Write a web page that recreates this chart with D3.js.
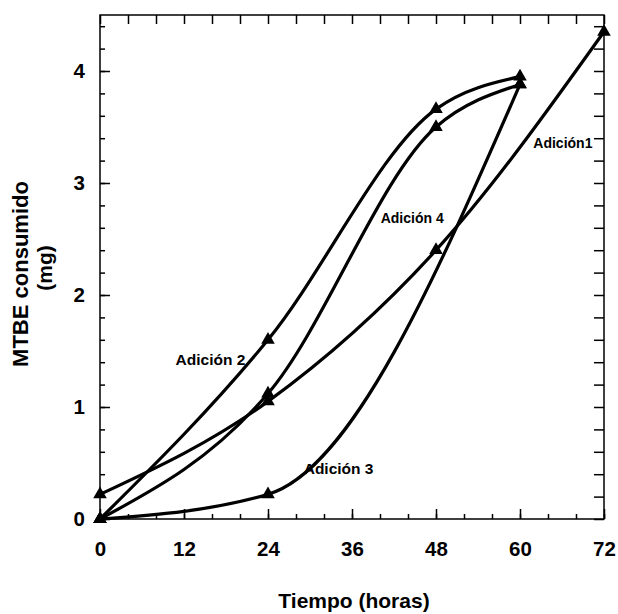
<!DOCTYPE html>
<html>
<head>
<meta charset="utf-8">
<script src="https://cdn.jsdelivr.net/npm/d3@7"></script>
<style>
  body { margin: 0; background: #fff; }
  text { font-family: "Liberation Sans", Arial, sans-serif; font-weight: bold; }
</style>
</head>
<body>
<div id="chart"></div>
<script>
// MTBE consumido vs tiempo, four additions

var seriesNames = ["Adición1", "Adición 2", "Adición 3", "Adición 4"]

var adicion1X = [0, 24, 48, 72]
var adicion1Y = [0.22, 1.05, 2.4, 4.35]

var adicion2X = [0, 24, 48, 60]
var adicion2Y = [0, 1.6, 3.66, 3.95]

var adicion3X = [0, 24, 60]
var adicion3Y = [0, 0.22, 3.88]

var adicion4X = [0, 24, 48, 60]
var adicion4Y = [0, 1.12, 3.5, 3.88]

var xTickLabels = [0, 12, 24, 36, 48, 60, 72]
var yTickLabels = [0, 1, 2, 3, 4]

var width = 618
	height = 614
	plotLeft = 100
	plotRight = 604
	plotTop = 15
	plotBottom = 519

var svg = d3.select("#chart")
	.append("svg")
	.attr("width", width)
	.attr("height", height)

var x = d3.scaleLinear().domain([0, 72]).range([plotLeft, plotRight])
var y = d3.scaleLinear().domain([0, 4.5]).range([plotBottom, plotTop])

var minorX = d3.range(0, 73, 4)
var minorY = d3.range(0, 4.51, 0.2)

// bottom axis: long ticks with labels every 12 h, short ones every 4 h
svg.append("g")
	.attr("transform", "translate(0," + plotBottom + ")")
	.call(d3.axisBottom(x).tickValues(minorX).tickSize(-5).tickFormat(""))
svg.append("g")
	.attr("class", "lab")
	.attr("transform", "translate(0," + plotBottom + ")")
	.call(d3.axisBottom(x).tickValues(xTickLabels).tickSize(-10).tickPadding(22).tickFormat(d3.format("d")))

// left axis
svg.append("g")
	.attr("transform", "translate(" + plotLeft + ",0)")
	.call(d3.axisLeft(y).tickValues(minorY).tickSize(-5).tickFormat(""))
svg.append("g")
	.attr("class", "lab")
	.attr("transform", "translate(" + plotLeft + ",0)")
	.call(d3.axisLeft(y).tickValues(yTickLabels).tickSize(-10).tickPadding(15).tickFormat(d3.format("d")))

// top and right: ticks only
svg.append("g")
	.attr("transform", "translate(0," + plotTop + ")")
	.call(d3.axisTop(x).tickValues(minorX).tickSize(-9).tickFormat(""))
svg.append("g")
	.attr("transform", "translate(" + plotRight + ",0)")
	.call(d3.axisRight(y).tickValues(minorY).tickSize(-10).tickFormat(""))

svg.selectAll(".domain").remove()
svg.selectAll(".tick line").attr("stroke", "#000").attr("stroke-width", 1.5)
svg.selectAll(".lab text")
	.attr("font-size", 20.5)
	.attr("fill", "#000")
	.attr("font-family", "Liberation Sans, Arial, sans-serif")
	.attr("font-weight", "bold")

svg.append("rect")
	.attr("x", plotLeft)
	.attr("y", plotTop)
	.attr("width", plotRight - plotLeft)
	.attr("height", plotBottom - plotTop)
	.attr("fill", "none")
	.attr("stroke", "#000")
	.attr("stroke-width", 1.5)

// curves
var series = [
	{ xs: adicion1X, ys: adicion1Y },
	{ xs: adicion2X, ys: adicion2Y },
	{ xs: adicion3X, ys: adicion3Y },
	{ xs: adicion4X, ys: adicion4Y }
]

var line = d3.line()
	.x(function(d) { return x(d[0]) })
	.y(function(d) { return y(d[1]) })
	.curve(d3.curveMonotoneX)

series.forEach(function(s) {
	var pts = d3.zip(s.xs, s.ys)
	svg.append("path")
		.datum(pts)
		.attr("d", line)
		.attr("fill", "none")
		.attr("stroke", "#000")
		.attr("stroke-width", 3.2)
		.attr("stroke-linejoin", "round")

	svg.selectAll(null)
		.data(pts)
		.enter()
		.append("path")
		.attr("d", d3.symbol(d3.symbolTriangle, 80))
		.attr("transform", function(d) { return "translate(" + x(d[0]) + "," + y(d[1]) + ")" })
		.attr("fill", "#000")
})

// curve labels
var labelAt = [[61.9, 3.31, 14], [10.8, 1.375, 15.5], [29.1, 0.40, 15.5], [40.1, 2.645, 14]]
seriesNames.forEach(function(name, i) {
	svg.append("text")
		.attr("x", x(labelAt[i][0]))
		.attr("y", y(labelAt[i][1]))
		.attr("font-size", labelAt[i][2])
		.attr("fill", "#000")
		.text(name)
})

// axis titles
svg.append("text")
	.attr("x", (plotLeft + plotRight) / 2 + 2)
	.attr("y", 608)
	.attr("text-anchor", "middle")
	.attr("font-size", 21)
	.text("Tiempo (horas)")

svg.append("text")
	.attr("transform", "translate(28,274) rotate(-90)")
	.attr("text-anchor", "middle")
	.attr("font-size", 22)
	.text("MTBE consumido")

svg.append("text")
	.attr("transform", "translate(52,268) rotate(-90)")
	.attr("text-anchor", "middle")
	.attr("font-size", 21)
	.text("(mg)")
</script>
</body>
</html>
